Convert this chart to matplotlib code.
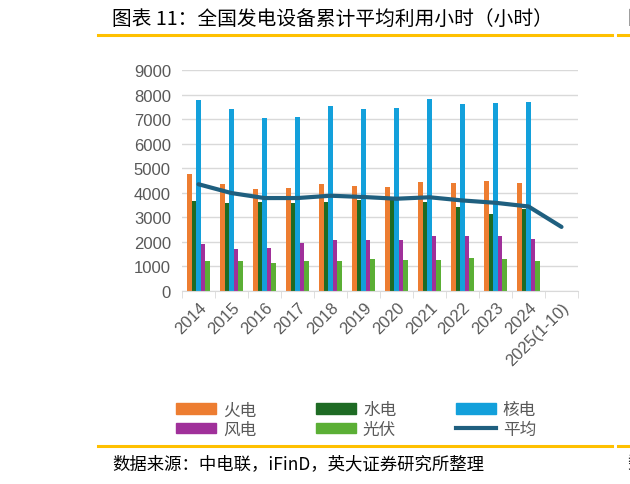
import numpy as np
import matplotlib
matplotlib.use('Agg')
import matplotlib.pyplot as plt
from matplotlib.lines import Line2D
from matplotlib.patches import Patch

plt.rcParams['font.family'] = ['Liberation Sans', 'Noto Sans CJK SC', 'DejaVu Sans']

# data (hours)
years = ['2014', '2015', '2016', '2017', '2018', '2019', '2020',
         '2021', '2022', '2023', '2024', '2025(1-10)']
thermal = [4770, 4350, 4165, 4209, 4361, 4293, 4216, 4448, 4379, 4466, 4400, np.nan]
hydro = [3653, 3590, 3621, 3579, 3613, 3697, 3827, 3622, 3412, 3133, 3349, np.nan]
nuclear = [7787, 7403, 7042, 7089, 7543, 7394, 7453, 7802, 7616, 7661, 7683, np.nan]
wind = [1900, 1724, 1742, 1948, 2095, 2082, 2097, 2232, 2221, 2225, 2127, np.nan]
solar = [1235, 1224, 1129, 1204, 1212, 1285, 1281, 1281, 1337, 1286, 1211, np.nan]
average = [4348, 3988, 3785, 3786, 3880, 3828, 3758, 3817, 3687, 3592, 3442, 2610]

names = ['火电', '水电', '核电', '风电', '光伏']
colors = ['#ED7D31', '#1E6B24', '#13A0DB', '#A0309A', '#5BAF35']
line_color = '#1F5F7F'
gray = '#595959'
gold = '#FFC000'

fig = plt.figure(figsize=(6.3, 4.85), dpi=100)
ax = fig.add_axes([182 / 630, 1 - 292 / 485, 396 / 630, 221 / 485])

x = np.arange(len(years))
w = 0.14
series = [thermal, hydro, nuclear, wind, solar]
for i, (vals, c) in enumerate(zip(series, colors)):
    ax.bar(x + (i - 2) * w, vals, width=w, color=c, zorder=2)
ax.plot(x, average, color=line_color, lw=3, solid_capstyle='round', zorder=3)

ax.set_xlim(-0.5, len(years) - 0.5)
ax.set_ylim(0, 9000)
ax.set_yticks(np.arange(0, 9001, 1000))
ax.yaxis.grid(True, color='#D9D9D9', lw=1, zorder=0)
ax.set_axisbelow(True)
for s in ['top', 'right', 'left']:
    ax.spines[s].set_visible(False)
ax.spines['bottom'].set_color('#D9D9D9')

ax.set_xticks(x)
ax.set_xticklabels(years, rotation=45, ha='right', rotation_mode='anchor')
ax.set_xticks(np.arange(-0.5, len(years)), minor=True)
ax.tick_params(axis='x', which='major', length=0, pad=6, labelsize=12, labelcolor=gray)
ax.tick_params(axis='x', which='minor', length=5, color='#D9D9D9')
ax.tick_params(axis='y', length=0, pad=8, labelsize=12, labelcolor=gray)

# legend, row-major order via column-major fill
h = [Patch(color=c) for c in colors] + [Line2D([], [], color=line_color, lw=3)]
labels = names + ['平均']
order = [0, 3, 1, 4, 2, 5]
fig.legend([h[k] for k in order], [labels[k] for k in order], ncol=3,
           loc='upper left', bbox_to_anchor=(168 / 630, 1 - 394 / 485),
           frameon=False, labelcolor=gray, handlelength=2.4,
           handleheight=0.6, handletextpad=0.4, columnspacing=3.6,
           labelspacing=0.15, borderpad=0, prop={'family': ['Noto Sans CJK SC'], 'size': 12})

# title and source frame
fig.text(112 / 630, 1 - 19 / 485, '图表 11：全国发电设备累计平均利用小时（小时）',
         fontsize=14.2, family=['Noto Sans CJK SC'], va='center', ha='left', color='black')
fig.text(627 / 630, 1 - 19 / 485, '图', fontsize=14, family=['Noto Sans CJK SC'],
         va='center', ha='left', color='black')
fig.add_artist(Line2D([98 / 630, 612 / 630], [1 - 36 / 485] * 2, color=gold, lw=2.2))
fig.add_artist(Line2D([618 / 630, 1.0], [1 - 36 / 485] * 2, color=gold, lw=2.2))
fig.add_artist(Line2D([98 / 630, 612 / 630], [1 - 447 / 485] * 2, color=gold, lw=2.2))
fig.add_artist(Line2D([618 / 630, 1.0], [1 - 447 / 485] * 2, color=gold, lw=2.2))
fig.text(112 / 630, 1 - 464 / 485, '数据来源：中电联，iFinD，英大证券研究所整理',
         fontsize=12.5, family=['Noto Sans CJK SC'], va='center', ha='left', color='black')
fig.text(627 / 630, 1 - 464 / 485, '数', fontsize=12.5, family=['Noto Sans CJK SC'],
         va='center', ha='left', color='black')

fig.savefig('out.png', dpi=100)
